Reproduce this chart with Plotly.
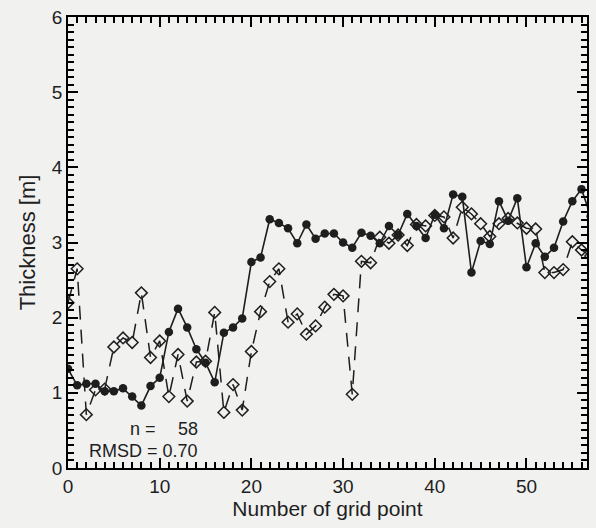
import plotly.graph_objects as go

# grid point index
grid_point = list(range(58))

# filled circles, solid line
thickness_filled = [
    1.32, 1.10, 1.12, 1.12, 1.02, 1.02, 1.06, 0.95, 0.83, 1.09,
    1.20, 1.81, 2.12, 1.87, 1.58, 1.40, 1.14, 1.80, 1.87, 1.99,
    2.74, 2.80, 3.31, 3.26, 3.19, 2.99, 3.24, 3.05, 3.12, 3.12,
    3.00, 2.93, 3.13, 3.09, 2.99, 3.22, 3.10, 3.38, 3.22, 3.06,
    3.37, 3.19, 3.64, 3.61, 2.60, 3.02, 2.98, 3.55, 3.29, 3.59,
    2.67, 2.99, 2.81, 2.93, 3.28, 3.55, 3.71, 3.35,
]

# open diamonds, dashed line
thickness_open = [
    2.20, 2.65, 0.71, 1.04, 1.05, 1.61, 1.73, 1.67, 2.33, 1.47,
    1.69, 0.95, 1.51, 0.89, 1.41, 1.42, 2.07, 0.74, 1.11, 0.77,
    1.55, 2.08, 2.48, 2.65, 1.94, 2.05, 1.78, 1.89, 2.14, 2.31,
    2.29, 0.98, 2.75, 2.73, 3.07, 2.99, 3.10, 2.96, 3.24, 3.22,
    3.36, 3.34, 3.06, 3.47, 3.38, 3.25, 3.08, 3.25, 3.32, 3.26,
    3.19, 3.18, 2.60, 2.60, 2.64, 3.01, 2.90, 2.82,
]

n_label = "n ="
n_value = "58"
rmsd_label = "RMSD = 0.70"

x_range = [0, 56.6]
y_range = [0, 6]

ink = "#1e1e1e"
font_family = "Liberation Sans, Arial, Helvetica, sans-serif"

fig = go.Figure()

fig.add_trace(go.Scatter(
    x=grid_point, y=thickness_open, mode="lines+markers",
    line=dict(color=ink, width=1.5, dash="14px,10px"),
    marker=dict(symbol="diamond-open", size=9, color=ink, line=dict(width=1.5, color=ink)),
    cliponaxis=True, showlegend=False,
))

fig.add_trace(go.Scatter(
    x=grid_point, y=thickness_filled, mode="lines+markers",
    line=dict(color=ink, width=1.6),
    marker=dict(symbol="circle", size=8.5, color=ink),
    cliponaxis=True, showlegend=False,
))

fig.add_annotation(x=6.5, y=0.52, xref="x", yref="y", text=n_label, showarrow=False,
                   xanchor="left", yanchor="middle", font=dict(size=18, color=ink, family=font_family))
fig.add_annotation(x=14.4, y=0.52, xref="x", yref="y", text=n_value, showarrow=False,
                   xanchor="right", yanchor="middle", font=dict(size=18, color=ink, family=font_family))
fig.add_annotation(x=14.4, y=0.23, xref="x", yref="y", text=rmsd_label, showarrow=False,
                   xanchor="right", yanchor="middle", font=dict(size=18, color=ink, family=font_family))

tick_common = dict(
    showline=True, linecolor="#000000", linewidth=1.5, mirror="ticks",
    ticks="inside", ticklen=10, tickwidth=2, tickcolor="#000000",
    showgrid=False, zeroline=False, ticklabeloverflow="allow",
    tickfont=dict(size=19, color=ink, family=font_family),
)

fig.update_layout(
    width=596, height=528,
    margin=dict(l=68, r=7, t=8, b=60),
    paper_bgcolor="#f1f1f0", plot_bgcolor="#f1f1f0",
    xaxis=dict(
        range=x_range, dtick=10, tick0=0,
        minor=dict(ticks="inside", ticklen=6, dtick=1, tickcolor="#000000", tickwidth=1.5, showgrid=False),
        title=dict(text="Number of grid point", font=dict(size=21, color=ink, family=font_family), standoff=2),
        **tick_common,
    ),
    yaxis=dict(
        range=y_range, dtick=1, tick0=0,
        minor=dict(ticks="inside", ticklen=6, dtick=0.1, tickcolor="#000000", tickwidth=1.5, showgrid=False),
        title=dict(text="Thickness [m]", font=dict(size=22, color=ink, family=font_family), standoff=10),
        **tick_common,
    ),
)

fig.write_html("out.html")
